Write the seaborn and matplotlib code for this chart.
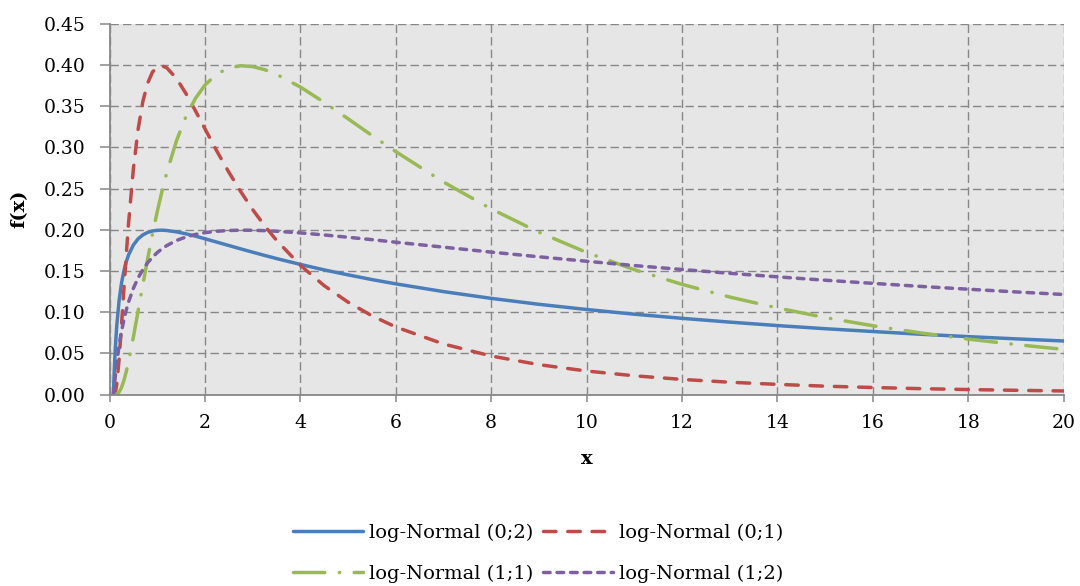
import matplotlib
matplotlib.use("Agg")
import matplotlib.pyplot as plt
import pandas as pd
import seaborn as sns

# ---- data ----
x_vals = [0.08, 0.10, 0.12, 0.15, 0.20, 0.25, 0.30, 0.35, 0.40, 0.50, 0.60, 0.70,
          0.80, 0.90, 1.00, 1.10, 1.20, 1.40, 1.60, 1.80, 2.00, 2.25, 2.50, 2.75,
          3.00, 3.25, 3.50, 4.00, 4.50, 5.00, 5.50, 6.00, 7, 8, 9, 10, 11, 12,
          13, 14, 15, 16, 17, 18, 19, 20]

y_ln_0_2 = [0.0, 0.0294, 0.0546, 0.0824, 0.1137, 0.1347, 0.1498, 0.1610, 0.1696,
            0.1815, 0.1891, 0.1938, 0.1968, 0.1985, 0.1993, 0.1995, 0.1991, 0.1975,
            0.1951, 0.1923, 0.1891, 0.1850, 0.1809, 0.1768, 0.1728, 0.1689, 0.1651,
            0.1580, 0.1513, 0.1453, 0.1396, 0.1344, 0.1250, 0.1168, 0.1096, 0.1033,
            0.0976, 0.0926, 0.0880, 0.0838, 0.0800, 0.0766, 0.0733, 0.0704, 0.0677,
            0.0651]

y_ln_0_1 = [0.0, 0.0002, 0.0022, 0.0116, 0.0422, 0.0830, 0.1270, 0.1690, 0.2085,
            0.2737, 0.3221, 0.3559, 0.3779, 0.3912, 0.3975, 0.3988, 0.3964, 0.3838,
            0.3654, 0.3444, 0.3225, 0.2954, 0.2699, 0.2463, 0.2245, 0.2050, 0.1872,
            0.1569, 0.1322, 0.1122, 0.0957, 0.0821, 0.0615, 0.0469, 0.0364, 0.0287,
            0.0229, 0.0185, 0.0151, 0.0125, 0.0103, 0.0087, 0.0073, 0.0062, 0.0053,
            0.0045]

y_ln_1_1 = [0.0, 0.0, 0.0001, 0.0005, 0.0031, 0.0086, 0.0169, 0.0277, 0.0405,
            0.0697, 0.1016, 0.1338, 0.1650, 0.1946, 0.2219, 0.2468, 0.2692, 0.3074,
            0.3370, 0.3592, 0.3755, 0.3889, 0.3962, 0.3989, 0.3979, 0.3942, 0.3885,
            0.3731, 0.3545, 0.3346, 0.3144, 0.2948, 0.2579, 0.2253, 0.1970, 0.1725,
            0.1516, 0.1338, 0.1184, 0.1052, 0.0935, 0.0836, 0.0749, 0.0674, 0.0608,
            0.0549]

y_ln_1_2 = [0.0, 0.0098, 0.0216, 0.0374, 0.0591, 0.0763, 0.0905, 0.1024, 0.1126,
            0.1290, 0.1417, 0.1518, 0.1600, 0.1667, 0.1723, 0.1769, 0.1808, 0.1869,
            0.1912, 0.1943, 0.1965, 0.1982, 0.1991, 0.1995, 0.1994, 0.1989, 0.1982,
            0.1962, 0.1937, 0.1909, 0.1880, 0.1849, 0.1789, 0.1729, 0.1672, 0.1618,
            0.1566, 0.1518, 0.1472, 0.1429, 0.1388, 0.1350, 0.1313, 0.1279, 0.1246,
            0.1215]

series_names = ["log-Normal (0;2)", "log-Normal (0;1)",
                "log-Normal (1;1)", "log-Normal (1;2)"]
series_values = [y_ln_0_2, y_ln_0_1, y_ln_1_1, y_ln_1_2]

x_ticks = [0, 2, 4, 6, 8, 10, 12, 14, 16, 18, 20]
y_ticks = [0.00, 0.05, 0.10, 0.15, 0.20, 0.25, 0.30, 0.35, 0.40, 0.45]
x_label = "x"
y_label = "f(x)"

# ---- styles ----
colors = {"log-Normal (0;2)": "#4A7EBB", "log-Normal (0;1)": "#BE4B48",
          "log-Normal (1;1)": "#98B954", "log-Normal (1;2)": "#7D60A0"}
dash_map = {"log-Normal (0;2)": "", "log-Normal (0;1)": (3.6, 3.4),
            "log-Normal (1;1)": (9, 4.2, 0.1, 4.2), "log-Normal (1;2)": (1.9, 2.0)}

rows = []
for name, vals in zip(series_names, series_values):
    for xv, yv in zip(x_vals, vals):
        rows.append({"x": xv, "f": yv, "series": name})
df = pd.DataFrame(rows)

plt.rcParams['font.family'] = ['DejaVu Serif', 'Liberation Serif']
FS = 13.5
LFS = 14
grid_col = "#878787"

fig = plt.figure(figsize=(10.8, 5.86), dpi=100)
ax = fig.add_axes([0.1014, 0.3265, 0.8835, 0.6332])
ax.set_facecolor("#E6E6E6")

sns.lineplot(data=df, x="x", y="f", hue="series", style="series",
             hue_order=series_names, style_order=series_names,
             palette=colors, dashes=dash_map, linewidth=2.5,
             estimator=None, sort=False, ax=ax,
             dash_capstyle="round", solid_capstyle="round")

ax.set_xlim(0, 20)
ax.set_ylim(0, 0.45)
ax.set_xticks(x_ticks)
ax.set_yticks(y_ticks)
ax.set_xticklabels([str(t) for t in x_ticks])
ax.set_yticklabels([f"{t:.2f}" for t in y_ticks])
ax.grid(True, color=grid_col, linestyle=(0, (6, 3)), linewidth=1.0)
ax.set_axisbelow(True)

for s in ["top", "right"]:
    ax.spines[s].set_visible(False)
for s in ["left", "bottom"]:
    ax.spines[s].set_color(grid_col)
    ax.spines[s].set_linewidth(1.3)

ax.tick_params(axis="y", length=7, width=1.1, color=grid_col, pad=10, labelsize=FS)
ax.tick_params(axis="x", length=5, width=1.1, color=grid_col, pad=9, labelsize=FS)

ax.set_xlabel(x_label, fontweight="bold", fontsize=14)
ax.set_ylabel(y_label, fontweight="bold", fontsize=14)
ax.xaxis.set_label_coords(0.5, -0.15)
ax.yaxis.set_label_coords(-0.085, 0.5)

handles, labels = ax.get_legend_handles_labels()
ax.get_legend().remove()
hmap = dict(zip(labels, handles))
order = [series_names[0], series_names[2], series_names[1], series_names[3]]
fig.legend([hmap[k] for k in order], order, loc="center",
           bbox_to_anchor=(0.498, 0.056), ncol=2, frameon=False, fontsize=LFS,
           handlelength=3.6, handletextpad=0.3, columnspacing=0.5, labelspacing=1.2)

fig.savefig("out.png", dpi=100)
